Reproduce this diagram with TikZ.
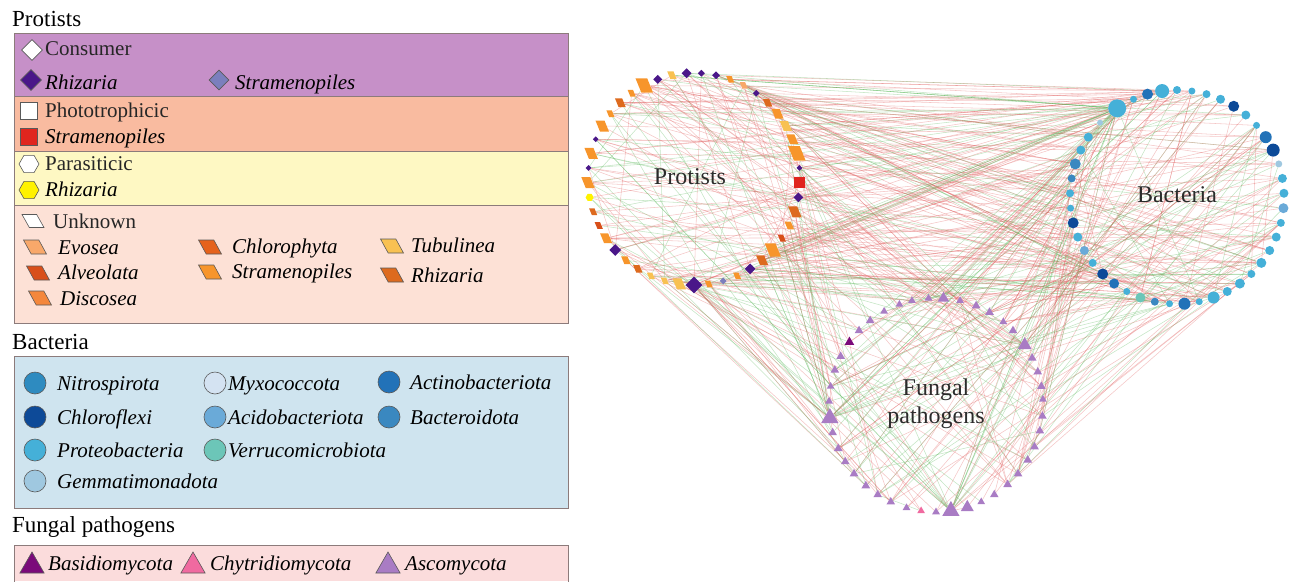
\documentclass[tikz,border=0pt]{standalone}
\usepackage{fontspec}
\setmainfont{Liberation Serif}
\usetikzlibrary{shapes.geometric}
\pgfdeclarelayer{background}
\pgfsetlayers{background,main}
\definecolor{boxline}{HTML}{8C7B7B}
\definecolor{bxP}{HTML}{C690C8}
\definecolor{bxS}{HTML}{F9BBA0}
\definecolor{bxY}{HTML}{FEF8C3}
\definecolor{bxU}{HTML}{FDE1D6}
\definecolor{bxB}{HTML}{CFE4EF}
\definecolor{bxF}{HTML}{FBDCDC}
\definecolor{cRh}{HTML}{4A1789}
\definecolor{cSt}{HTML}{7B7FBD}
\definecolor{cRed}{HTML}{E0251E}
\definecolor{cYel}{HTML}{FFF200}
\definecolor{uEv}{HTML}{F8A86A}
\definecolor{uCh}{HTML}{E5621C}
\definecolor{uTu}{HTML}{F8C152}
\definecolor{uAl}{HTML}{D84F1A}
\definecolor{uSt}{HTML}{F7952B}
\definecolor{uRh}{HTML}{DD6A1E}
\definecolor{uDi}{HTML}{F4873C}
\definecolor{bNi}{HTML}{2E8BC0}
\definecolor{bMy}{HTML}{D4E3F2}
\definecolor{bAc}{HTML}{2272B8}
\definecolor{bCh}{HTML}{0D4A98}
\definecolor{bAd}{HTML}{6AAAD8}
\definecolor{bBa}{HTML}{3A88C0}
\definecolor{bPr}{HTML}{45B0D8}
\definecolor{bVe}{HTML}{6CC6B8}
\definecolor{bGe}{HTML}{9FC8E0}
\definecolor{fBa}{HTML}{7B0A7A}
\definecolor{fCh}{HTML}{F06AA0}
\definecolor{fAs}{HTML}{A97CC4}
\definecolor{eRd}{HTML}{E06060}
\definecolor{eGr}{HTML}{5DB85D}
\definecolor{txt}{HTML}{2B2B2B}
\newcommand\netedges[6]{%
  \foreach \k in {1,...,#1}{%
    \pgfmathrandominteger{\ii}{1}{#3}%
    \pgfmathrandominteger{\jj}{1}{#5}%
    \pgfmathrandominteger{\cc}{1}{100}%
    \ifnum\cc>#6\relax\def\ec{er}\else\def\ec{eg}\fi
    \draw[\ec] (#2\ii) -- (#4\jj);
  }}
\newcommand\hubedges[5]{%
  \foreach \k in {1,...,#1}{%
    \pgfmathrandominteger{\jj}{1}{#4}%
    \pgfmathrandominteger{\cc}{1}{100}%
    \ifnum\cc>#5\relax\def\ec{er}\else\def\ec{eg}\fi
    \draw[\ec] (#2) -- (#3\jj);
  }}
\begin{document}
\begin{tikzpicture}[x=1pt,y=-1pt,
  lbox/.style={draw=boxline, line width=0.9pt},
  lsym/.style={draw=black!65, line width=0.6pt},
  lt/.style={anchor=base west, inner sep=0pt, text=black, font=\fontsize{21}{25}\selectfont\itshape},
  ltu/.style={anchor=base west, inner sep=0pt, text=black!85, font=\fontsize{21}{25}\selectfont},
  ttl/.style={anchor=base west, inner sep=0pt, text=black, font=\fontsize{23}{27}\selectfont},
  netlbl/.style={align=center, inner sep=0pt, text=txt, font=\fontsize{24}{28}\selectfont},
  dm/.style={diamond, aspect=1, inner sep=0pt},
  sq/.style={rectangle, inner sep=0pt},
  hx/.style={regular polygon, regular polygon sides=6, inner sep=0pt},
  pg/.style={trapezium, trapezium left angle=135, trapezium right angle=45, trapezium stretches=true, inner sep=0.5pt},
  tr/.style={regular polygon, regular polygon sides=3, inner sep=0pt},
  nRh/.style={dm, fill=cRh, minimum size=#1},
  nSt/.style={dm, fill=cSt, minimum size=#1},
  nRe/.style={sq, fill=cRed, minimum size=#1},
  nYe/.style={hx, fill=cYel, minimum size=#1},
  qSt/.style={pg, fill=uSt, minimum height=1.1*#1, minimum width=1.35*#1},
  qRh/.style={pg, fill=uRh, minimum height=1.1*#1, minimum width=1.35*#1},
  qAl/.style={pg, fill=uAl, minimum height=1.1*#1, minimum width=1.35*#1},
  qTu/.style={pg, fill=uTu, minimum height=1.1*#1, minimum width=1.35*#1},
  qEv/.style={pg, fill=uEv, minimum height=1.1*#1, minimum width=1.35*#1},
  bn/.style={circle, inner sep=0pt, minimum size=#1},
  cPr/.style={bn=#1, fill=bPr},
  cCh/.style={bn=#1, fill=bCh},
  cAc/.style={bn=#1, fill=bAc},
  cAd/.style={bn=#1, fill=bAd},
  cBa/.style={bn=#1, fill=bBa},
  cVe/.style={bn=#1, fill=bVe},
  cGe/.style={bn=#1, fill=bGe},
  tAs/.style={tr, fill=fAs, minimum size=#1},
  tBa/.style={tr, fill=fBa, minimum size=#1},
  tCh/.style={tr, fill=fCh, minimum size=#1},
  er/.style={draw=eRd, draw opacity=0.36, line width=0.55pt},
  eg/.style={draw=eGr, draw opacity=0.36, line width=0.55pt}]
\useasboundingbox (0,0) rectangle (1292,581);

% ---------------- legend: protists ----------------
\node[ttl] (tP) at (12,26) {Protists};
\draw[lbox, fill=bxP] (14,33) rectangle (568,96);
\draw[lbox, fill=bxS] (14,96) rectangle (568,151);
\draw[lbox, fill=bxY] (14,151) rectangle (568,205);
\draw[lbox, fill=bxU] (14,205) rectangle (568,323);

\node[dm, lsym, fill=white, minimum size=21] (s1) at (32,50) {};
\node[ltu] (t1) at (45,55) {Consumer};
\node[dm, lsym, fill=cRh, minimum size=21] (s2) at (31,80) {};
\node[lt] (t2) at (45,89) {Rhizaria};
\node[dm, lsym, fill=cSt, minimum size=20] (s3) at (219,80) {};
\node[lt] (t3) at (235,89) {Stramenopiles};

\node[sq, lsym, fill=white, minimum size=17] (s4) at (29,111) {};
\node[ltu] (t4) at (45,117) {Phototrophicic};
\node[sq, lsym, fill=cRed, minimum size=17] (s5) at (29,137) {};
\node[lt] (t5) at (45,143) {Stramenopiles};

\node[hx, lsym, fill=white, minimum size=20] (s6) at (29,164) {};
\node[ltu] (t6) at (45,170) {Parasiticic};
\node[hx, lsym, fill=cYel, minimum size=20] (s7) at (29,190) {};
\node[lt] (t7) at (45,196) {Rhizaria};

\node[pg, lsym, fill=white, minimum width=22, minimum height=13] (s8) at (33,221) {};
\node[ltu] (t8) at (53,228) {Unknown};
\node[pg, lsym, fill=uEv, minimum width=23, minimum height=14] (s9) at (35,247) {};
\node[lt] (t9) at (58,254) {Evosea};
\node[pg, lsym, fill=uAl, minimum width=23, minimum height=14] (s10) at (38,273) {};
\node[lt] (t10) at (58,279) {Alveolata};
\node[pg, lsym, fill=uDi, minimum width=23, minimum height=14] (s11) at (40,298) {};
\node[lt] (t11) at (60,305) {Discosea};
\node[pg, lsym, fill=uCh, minimum width=23, minimum height=14] (s12) at (210,247) {};
\node[lt] (t12) at (232,253) {Chlorophyta};
\node[pg, lsym, fill=uSt, minimum width=23, minimum height=14] (s13) at (210,272) {};
\node[lt] (t13) at (232,278) {Stramenopiles};
\node[pg, lsym, fill=uTu, minimum width=23, minimum height=14] (s14) at (392,246) {};
\node[lt] (t14) at (411,252) {Tubulinea};
\node[pg, lsym, fill=uRh, minimum width=23, minimum height=14] (s15) at (392,275) {};
\node[lt] (t15) at (411,282) {Rhizaria};

% ---------------- legend: bacteria ----------------
\node[ttl] (tB) at (12,349) {Bacteria};
\draw[lbox, fill=bxB] (14,356) rectangle (568,508);
\node[bn=22, lsym, fill=bNi] (c1) at (35,383) {};
\node[lt] (u1) at (57,390) {Nitrospirota};
\node[bn=22, lsym, fill=bCh] (c2) at (35,417) {};
\node[lt] (u2) at (57,424) {Chloroflexi};
\node[bn=22, lsym, fill=bPr] (c3) at (35,450) {};
\node[lt] (u3) at (57,457) {Proteobacteria};
\node[bn=22, lsym, fill=bGe] (c4) at (35,481) {};
\node[lt] (u4) at (57,488) {Gemmatimonadota};
\node[bn=22, lsym, fill=bMy] (c5) at (215,383) {};
\node[lt] (u5) at (228,390) {Myxococcota};
\node[bn=22, lsym, fill=bAd] (c6) at (215,417) {};
\node[lt] (u6) at (228,424) {Acidobacteriota};
\node[bn=22, lsym, fill=bVe] (c7) at (215,450) {};
\node[lt] (u7) at (228,457) {Verrucomicrobiota};
\node[bn=22, lsym, fill=bAc] (c8) at (389,382) {};
\node[lt] (u8) at (410,389) {Actinobacteriota};
\node[bn=22, lsym, fill=bBa] (c9) at (389,417) {};
\node[lt] (u9) at (410,424) {Bacteroidota};

% ---------------- legend: fungal pathogens ----------------
\node[ttl] (tF) at (12,532) {Fungal pathogens};
\fill[bxF] (14,545) rectangle (568,581);
\draw[lbox] (14,582) |- (568,545) -- (568,582);
\node[tr, lsym, fill=fBa, minimum size=28] (g1) at (32,566) {};
\node[lt] (v1) at (48,570) {Basidiomycota};
\node[tr, lsym, fill=fCh, minimum size=28] (g2) at (193,566) {};
\node[lt] (v2) at (210,570) {Chytridiomycota};
\node[tr, lsym, fill=fAs, minimum size=28] (g3) at (388,566) {};
\node[lt] (v3) at (405,570) {Ascomycota};

% ---------------- network nodes ----------------
\begin{scope}[shift={(694,179)}]
\foreach \ang/\sz/\ty [count=\n] in {
 2/11/nRe, 10/10/nRh, 18/10/qRh, 26/7/qSt, 34/6/qAl, 42/12/qSt, 50/9/qRh, 58/11/nRh,
 66/6/qSt, 74/7/nSt, 82/6/qSt, 90/17/nRh, 98/10/qTu, 106/6/qTu, 114/6/qTu, 122/7/qRh,
 130/7/qSt, 138/12/nRh, 146/9/qSt, 154/6/qAl, 162/6/qRh, 170/8/nYe, 178/10/qSt, 186/6/nRh,
 194/10/qSt, 202/6/nRh, 210/10/qSt, 218/6/qSt, 226/8/qRh, 234/6/qSt, 242/13/qSt, 250/9/nRh,
 258/7/qTu, 266/10/nRh, 274/7/nRh, 282/8/nRh, 290/6/qSt, 298/6/qEv, 306/7/nRh, 314/7/qRh,
 322/9/qSt, 330/9/qTu, 338/9/qSt, 346/13/qSt, 354/6/nRh}
 {\node[\ty=\sz] (p\n) at (\ang:106) {};}
\end{scope}
\begin{scope}[shift={(1177,197)}]
\foreach \ang/\sz/\ty [count=\n] in {
 270/8/cPr, 278/7/cPr, 286/8/cPr, 294/9/cPr, 302/11/cCh, 310/9/cPr, 318/7/cPr, 326/12/cAc,
 334/13/cCh, 342/7/cGe, 350/9/cPr, 358/9/cPr, 6/10/cAd, 14/8/cPr, 22/9/cPr, 30/9/cPr,
 38/10/cPr, 46/8/cPr, 54/10/cPr, 62/9/cPr, 70/12/cPr, 78/7/cPr, 86/12/cAc, 94/7/cPr,
 102/8/cBa, 110/10/cVe, 118/7/cPr, 126/10/cAc, 134/11/cCh, 142/8/cPr, 150/9/cAd, 158/9/cPr,
 166/11/cCh, 174/7/cPr, 182/8/cPr, 190/8/cBa, 198/11/cBa, 206/9/cPr, 214/9/cPr, 224/6/cGe,
 236/18/cPr, 246/7/cPr, 254/11/cAc, 262/14/cPr}
 {\node[\ty=\sz] (b\n) at (\ang:107) {};}
\end{scope}
\begin{scope}[shift={(936,405)}]
\foreach \ang/\sz/\ty [count=\n] in {
 274/13/tAs, 266/9/tAs, 257/9/tAs, 250/9/tAs, 241/9/tAs, 232/10/tAs, 224/10/tAs, 216/11/tBa,
 207/10/tAs, 199/10/tAs, 190/9/tAs, 182/9/tAs, 173/20/tAs, 165/10/tAs, 156/10/tAs, 148/10/tAs,
 140/10/tAs, 131/10/tAs, 123/10/tAs, 115/10/tAs, 106/9/tAs, 98/9/tCh, 90/9/tAs, 82/20/tAs,
 73/15/tAs, 65/9/tAs, 57/10/tAs, 48/10/tAs, 40/10/tAs, 31/10/tAs, 23/10/tAs, 14/10/tAs,
 6/10/tAs, 357/9/tAs, 350/10/tAs, 342/10/tAs, 334/10/tAs, 326/16/tAs, 316/10/tAs, 309/9/tAs,
 300/10/tAs, 292/10/tAs, 283/9/tAs}
 {\node[\ty=\sz] (f\n) at (\ang:107) {};}
\end{scope}

\node[netlbl] (lP) at (690,177) {Protists};
\node[netlbl] (lB) at (1177,195) {Bacteria};
\node[netlbl] (lF) at (936,404) {Fungal\\pathogens};

% ---------------- network edges ----------------
\pgfmathsetseed{4711}
\begin{pgfonlayer}{background}
\netedges{150}{p}{45}{b}{44}{22}
\netedges{75}{p}{45}{f}{43}{35}
\netedges{95}{b}{44}{f}{43}{30}
\netedges{25}{p}{45}{p}{45}{25}
\netedges{25}{b}{44}{b}{44}{25}
\netedges{15}{f}{43}{f}{43}{30}
\hubedges{18}{b41}{p}{45}{80}
\hubedges{14}{b41}{f}{43}{80}
\hubedges{12}{f13}{p}{45}{55}
\hubedges{10}{f13}{b}{44}{65}
\hubedges{12}{f24}{b}{44}{70}
\hubedges{8}{f24}{p}{45}{55}
\hubedges{8}{f38}{p}{45}{20}
\hubedges{8}{p12}{f}{43}{40}
\hubedges{8}{b44}{p}{45}{30}
\end{pgfonlayer}
\end{tikzpicture}
\end{document}
